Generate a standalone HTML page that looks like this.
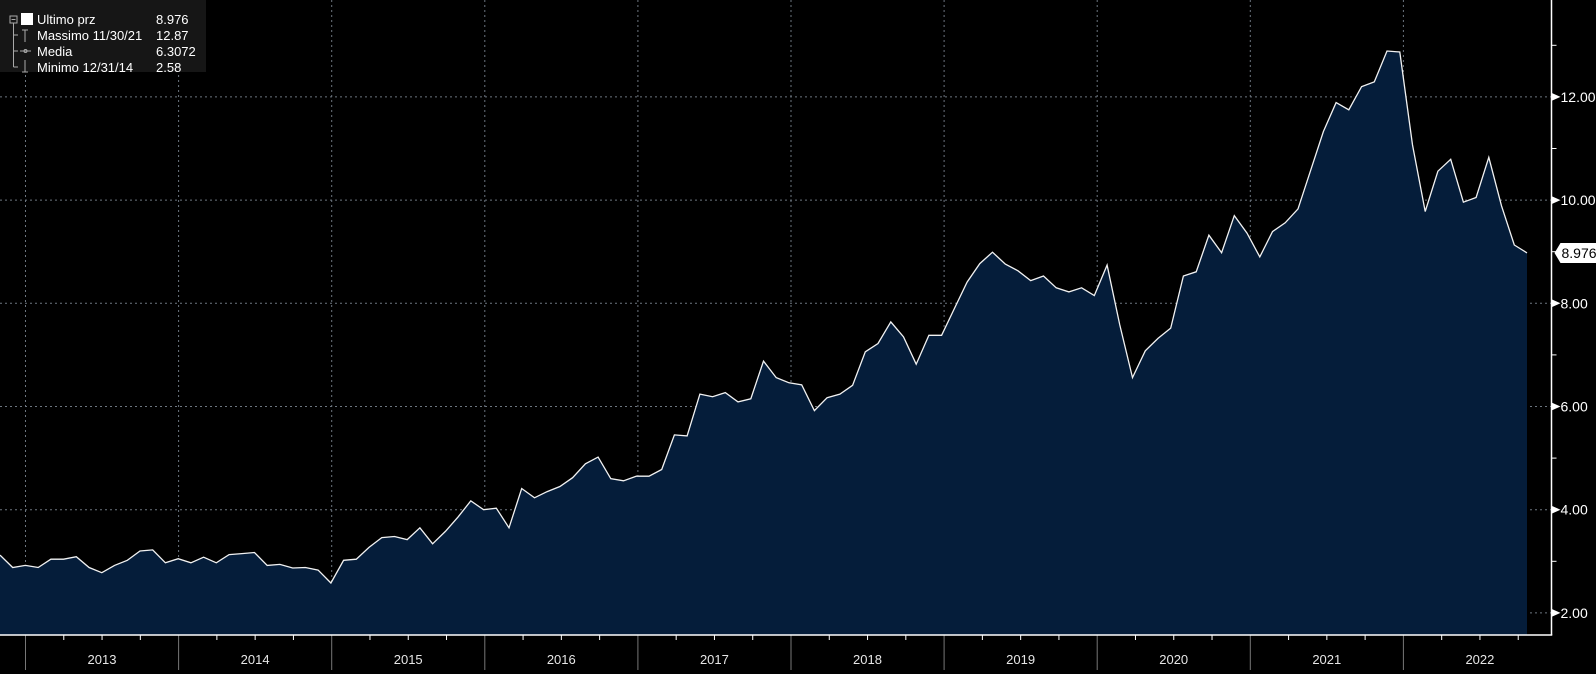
<!DOCTYPE html>
<html><head><meta charset="utf-8"><style>
html,body{margin:0;padding:0;background:#000;}
body{width:1596px;height:674px;overflow:hidden;font-family:"Liberation Sans",sans-serif;}
</style></head><body>
<svg id="chart" width="1596" height="674" xmlns="http://www.w3.org/2000/svg" style="position:absolute;left:0;top:0">
<rect x="0" y="0" width="1596" height="674" fill="#000"/>
<g id="grid"></g>
<path id="area" fill="#051d3a"/>
<path id="line" fill="none" stroke="#f2f2f2" stroke-width="1.3"/>
<g id="axes"></g>
<g id="legend">
<rect x="0" y="0" width="206" height="72" fill="#161616"/>
<g stroke="#aaa" stroke-width="1" fill="none">
<rect x="10" y="16" width="7" height="7"/><line x1="11.5" y1="19.5" x2="15.5" y2="19.5"/>
<line x1="13.5" y1="23" x2="13.5" y2="67"/>
<line x1="13.5" y1="35" x2="18" y2="35"/><line x1="13.5" y1="51" x2="18" y2="51"/><line x1="13.5" y1="67" x2="18" y2="67"/>
<line x1="25" y1="30" x2="25" y2="42"/><line x1="22" y1="30" x2="28" y2="30"/>
<line x1="20" y1="51" x2="31" y2="51"/><circle cx="25.5" cy="51" r="1.5"/>
<line x1="25" y1="60" x2="25" y2="72"/><line x1="22" y1="72" x2="28" y2="72"/>
</g>
<rect x="21" y="13" width="12" height="12" fill="#fff"/>
<g fill="#fff" font-size="13">
<text x="37" y="24">Ultimo prz</text>
<text x="156" y="24">8.976</text>
<text x="37" y="40">Massimo 11/30/21</text>
<text x="156" y="40">12.87</text>
<text x="37" y="56">Media</text>
<text x="156" y="56">6.3072</text>
<text x="37" y="72">Minimo 12/31/14</text>
<text x="156" y="72">2.58</text>
</g>
</g>
</svg>
<script>
const values=[3.12,2.88,2.92,2.88,3.04,3.04,3.09,2.88,2.78,2.92,3.02,3.20,3.22,2.97,3.05,2.97,3.08,2.97,3.13,3.15,
3.17,2.92,2.94,2.87,2.88,2.83,2.58,3.02,3.04,3.27,3.46,3.48,3.42,3.65,3.34,3.58,3.86,4.17,4.00,4.03,
3.65,4.41,4.23,4.35,4.45,4.62,4.89,5.02,4.60,4.56,4.65,4.65,4.78,5.45,5.43,6.24,6.19,6.27,6.09,6.15,
6.88,6.56,6.46,6.42,5.92,6.17,6.24,6.41,7.06,7.22,7.64,7.35,6.82,7.38,7.38,7.90,8.41,8.77,8.99,8.76,
8.63,8.44,8.53,8.30,8.22,8.30,8.15,8.74,7.58,6.56,7.08,7.32,7.52,8.53,8.61,9.32,8.98,9.70,9.36,8.90,
9.39,9.56,9.83,10.58,11.33,11.89,11.75,12.20,12.29,12.89,12.87,11.07,9.78,10.56,10.79,9.96,10.05,10.83,9.89,9.13,
8.976];
const years=["2013","2014","2015","2016","2017","2018","2019","2020","2021","2022"];
const yTicks=[2,4,6,8,10,12];
const yMinor=[3,5,7,9,11,13];
const lastLabel="8.976";
const NS="http://www.w3.org/2000/svg";
const X0=0,X1=1527,AX=1551.5,BOT=635;
const xIdx=i=>X0+(X1-X0)*i/(values.length-1);
const yv=v=>612.9-(v-2)*51.6;
const yearX=k=>25.5+k*153.1;
function mk(tag,attrs,parent){const e=document.createElementNS(NS,tag);for(const k in attrs)e.setAttribute(k,attrs[k]);parent.appendChild(e);return e;}
const grid=document.getElementById('grid'),axes=document.getElementById('axes');
yTicks.forEach(v=>{
 const l=mk('line',{x1:0,x2:AX,y1:yv(v),y2:yv(v),stroke:'#6d7680','stroke-width':1,'stroke-dasharray':'2,3'},grid);
 
 
 mk('path',{d:`M${AX} ${yv(v)-4}L${AX+9} ${yv(v)}L${AX} ${yv(v)+4}Z`,fill:'#fff'},axes);
 const t=mk('text',{x:AX+9,y:yv(v)+5,fill:'#fff','font-size':14},axes);
 t.textContent=v.toFixed(2);
 
 
});
yMinor.forEach(v=>{mk('line',{x1:AX,x2:AX+5,y1:yv(v),y2:yv(v),stroke:'#fff','stroke-width':1},axes);});
years.forEach((y,k)=>{
 const x=yearX(k);
 const g=mk('line',{x1:x,x2:x,y1:0,y2:BOT,stroke:'#6d7680','stroke-width':1,'stroke-dasharray':'2,3'},grid);
 
 
 mk('line',{x1:x,x2:x,y1:BOT,y2:670,stroke:'#777','stroke-width':1},axes);
 for(let q=1;q<4;q++){const xq=x+q*153.1/4;if(xq<AX)mk('line',{x1:xq,x2:xq,y1:BOT,y2:BOT+5,stroke:'#fff','stroke-width':1},axes);}
 const t=mk('text',{x:x+76.5,y:664,fill:'#e6e6e6','font-size':13,'text-anchor':'middle'},axes);
 t.textContent=y;
 
 
});
for(let q=1;q<4;q++)mk('line',{x1:yearX(0)-q*38.3,x2:yearX(0)-q*38.3,y1:BOT,y2:BOT+5,stroke:'#fff'},axes);
let d='';values.forEach((v,i)=>{d+=(i?'L':'M')+xIdx(i).toFixed(1)+' '+yv(v).toFixed(1);});
document.getElementById('line').setAttribute('d',d);
document.getElementById('area').setAttribute('d',d+`L${xIdx(values.length-1)} ${BOT}L${xIdx(0)} ${BOT}Z`);
const ax=mk('line',{x1:AX,x2:AX,y1:0,y2:BOT,stroke:'#fff','stroke-width':1.5},axes);


const bx=mk('line',{x1:0,x2:AX+0.75,y1:BOT,y2:BOT,stroke:'#fff','stroke-width':1.5},axes);


const ly=yv(values[values.length-1]);
const tag=mk('path',{d:`M${AX+3} ${ly}L${AX+9} ${ly-10}L1596 ${ly-10}L1596 ${ly+10}L${AX+9} ${ly+10}Z`,fill:'#fff'},axes);


const lt=mk('text',{x:AX+10,y:ly+5,fill:'#000','font-size':14},axes);
lt.textContent=lastLabel;


</script>
</body></html>
